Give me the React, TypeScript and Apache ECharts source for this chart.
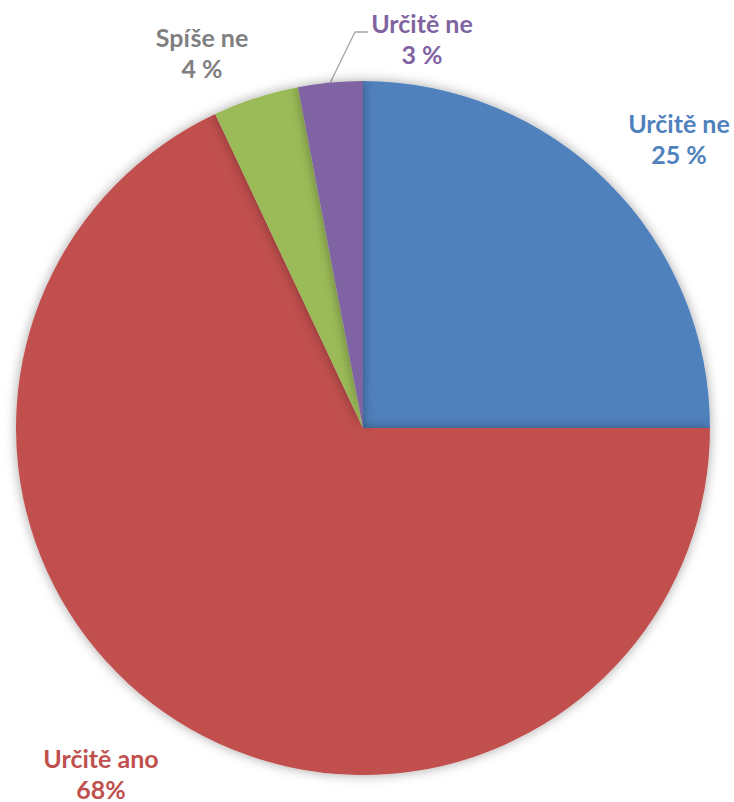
import React, { useEffect, useRef } from "react";
import * as echarts from "echarts";

const categories = ["Určitě ne", "Určitě ano", "Spíše ne", "Určitě ne"];
const values = [25, 68, 4, 3];
const percentLabels = ["25 %", "68%", "4 %", "3 %"];
const sliceColors = ["#4F81BD", "#C0504D", "#9BBB59", "#8064A2"];
const labelColors = ["#4F81BD", "#C0504D", "#7F7F7F", "#8064A2"];
const labelPos = [
  [679, 138],
  [101, 773],
  [202, 52],
  [422, 38],
];

const CX = 363;
const CY = 428;
const R = 347;

export default function App() {
  const ref = useRef<HTMLDivElement>(null);
  useEffect(() => {
    if (!ref.current) return;
    const chart = echarts.init(ref.current, null, { renderer: "svg" });
    const total = values.reduce((a, b) => a + b, 0);
    const midAngles: number[] = [];
    let acc = 0;
    values.forEach((v) => {
      midAngles.push(((acc + v / 2) / total) * Math.PI * 2);
      acc += v;
    });
    chart.setOption({
      animation: false,
      backgroundColor: "#ffffff",
      series: [
        {
          type: "pie",
          center: [CX, CY],
          radius: [0, R],
          startAngle: 90,
          clockwise: true,
          avoidLabelOverlap: false,
          itemStyle: {
            shadowBlur: 12,
            shadowColor: "rgba(0,0,0,0.35)",
            borderWidth: 0,
          },
          label: {
            show: true,
            position: "outside",
            fontFamily: "Lato",
            fontWeight: "bold",
            fontSize: 25,
            lineHeight: 31,
            align: "center",
          },
          labelLayout: (p: any) => {
            const i = p.dataIndex;
            const pos = labelPos[i];
            const out: any = { x: pos[0], y: pos[1], align: "center", verticalAlign: "middle" };
            if (i === 3) {
              const a = midAngles[i];
              const sx = CX + R * Math.sin(a);
              const sy = CY - R * Math.cos(a);
              const ex = pos[0] - 54;
              const ey = pos[1] - 6;
              out.labelLinePoints = [
                [sx, sy],
                [ex - 13, ey],
                [ex, ey],
              ];
            }
            return out;
          },
          data: values.map((v, i) => ({
            value: v,
            name: categories[i],
            itemStyle: { color: sliceColors[i] },
            label: {
              color: labelColors[i],
              formatter: categories[i] + "\n" + percentLabels[i],
            },
            labelLine: {
              show: i === 3,
              lineStyle: { color: "#A6A6A6", width: 1.3 },
            },
          })),
        },
      ],
    });
    return () => chart.dispose();
  }, []);
  return (
    <div
      ref={ref}
      style={{ position: "fixed", left: 0, top: 0, width: 734, height: 802 }}
    />
  );
}
